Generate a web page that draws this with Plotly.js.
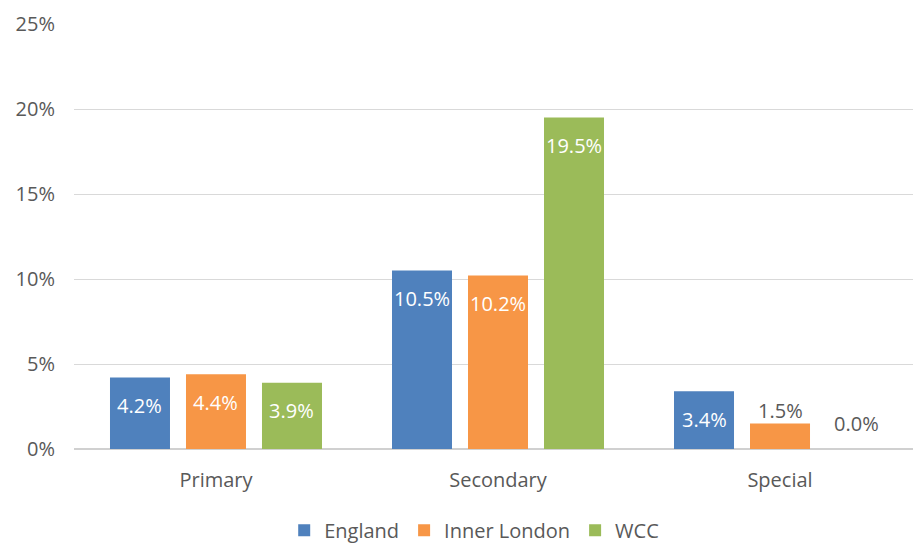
<!DOCTYPE html>
<html>
<head>
<meta charset="utf-8">
<script src="https://cdn.plot.ly/plotly-3.0.1.min.js"></script>
<style>html,body{margin:0;padding:0;background:#fff;}#chart{width:913px;height:543px;}</style>
</head>
<body>
<div id="chart"></div>
<script>
const categories = ["Primary", "Secondary", "Special"];
const seriesNames = ["England", "Inner London", "WCC"];
const england = [4.2, 10.5, 3.4];
const innerLondon = [4.4, 10.2, 1.5];
const wcc = [3.9, 19.5, 0.0];
const yTicks = [0, 5, 10, 15, 20, 25];

const colors = ["#4F81BD", "#F79646", "#9BBB59"];
const allSeries = [england, innerLondon, wcc];
const FONT = "Open Sans, Lato, sans-serif";
const GRAY = "#595959";

const traces = allSeries.map((vals, i) => ({
  type: "bar",
  name: seriesNames[i],
  x: categories,
  y: vals,
  marker: {color: colors[i], line: {width: 0}},
  hoverinfo: "skip"
}));

const annotations = [];
allSeries.forEach((vals, i) => {
  vals.forEach((v, j) => {
    const inside = v >= 3;
    annotations.push({
      x: categories[j], y: v, xref: "x", yref: "y",
      text: v.toFixed(1) + "%",
      showarrow: false,
      xshift: (i - 1) * 76,
      yshift: inside ? -28 : (v === 0 ? 26 : 13),
      font: {family: FONT, size: 20, color: inside ? "#ffffff" : GRAY}
    });
  });
});

const layout = {
  width: 913, height: 543,
  margin: {l: 74, r: 0, t: 24, b: 94, autoexpand: false},
  paper_bgcolor: "#ffffff", plot_bgcolor: "#ffffff",
  font: {family: FONT, size: 20, color: GRAY},
  barmode: "group",
  bargap: 0.1915,
  bargroupgap: 0.2105,
  showlegend: true,
  legend: {orientation: "h", x: 0.477, xanchor: "center", y: -0.145, yanchor: "top",
           font: {family: FONT, size: 20, color: GRAY}, itemwidth: 30, traceorder: "normal"},
  xaxis: {type: "category", range: [-0.5035, 2.4716], showgrid: false, zeroline: false,
          showline: false, ticks: "", ticklabelstandoff: 17,
          tickfont: {family: FONT, size: 20, color: GRAY}, fixedrange: true},
  yaxis: {range: [0, 25], tickvals: yTicks, ticktext: yTicks.map(t => t + "%"),
          showgrid: true, gridcolor: "#d9d9d9", gridwidth: 1,
          zeroline: true, zerolinecolor: "#d0d0d0", zerolinewidth: 1.5,
          showline: false, ticks: "", ticklabelstandoff: 18,
          tickfont: {family: FONT, size: 20, color: GRAY}, fixedrange: true},
  annotations: annotations
};

Plotly.newPlot("chart", traces, layout, {displayModeBar: false, staticPlot: true});
</script>
</body>
</html>
